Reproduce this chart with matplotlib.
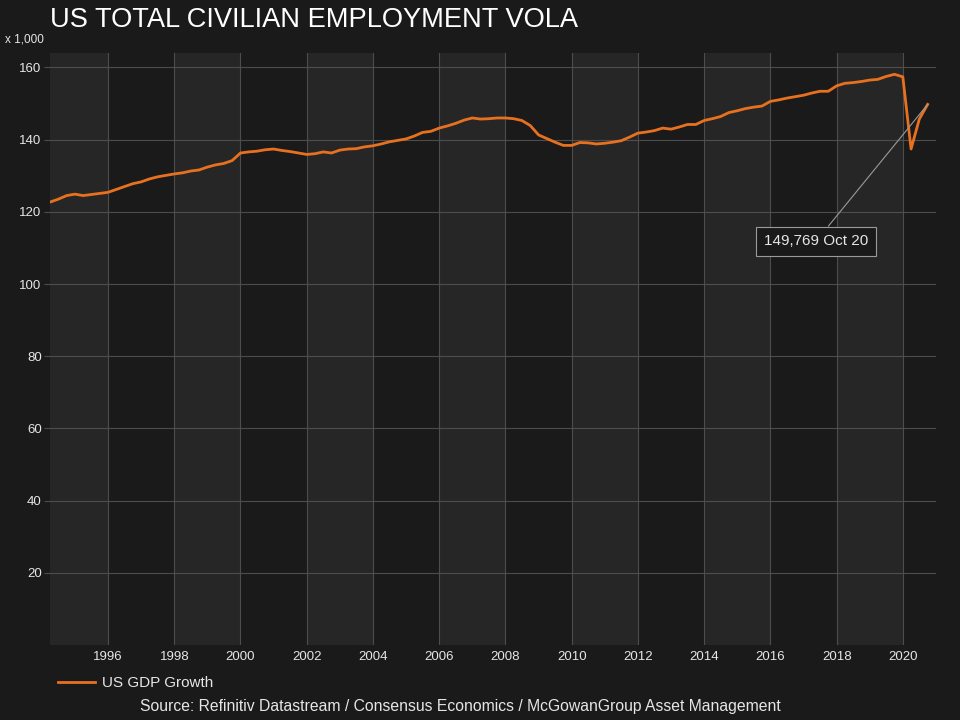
import matplotlib
matplotlib.use("Agg")
import matplotlib.pyplot as plt
import matplotlib.dates as mdates
import numpy as np
import pandas as pd

plt.rcParams['font.family'] = ['Liberation Sans', 'DejaVu Sans']

# quarterly values, x 1,000, Apr 1994 .. Oct 2020
emp = [
    122.7, 123.5, 124.5,                 # 1994 (Apr..Oct)
    124.9, 124.5, 124.8, 125.1,          # 1995
    125.4, 126.2, 127.0, 127.8,          # 1996
    128.3, 129.1, 129.7, 130.1,          # 1997
    130.5, 130.8, 131.3, 131.6,          # 1998
    132.4, 133.0, 133.4, 134.2,          # 1999
    136.3, 136.6, 136.8, 137.2,          # 2000
    137.4, 137.0, 136.7, 136.3,          # 2001
    135.9, 136.1, 136.6, 136.3,          # 2002
    137.1, 137.4, 137.5, 138.0,          # 2003
    138.3, 138.8, 139.4, 139.8,          # 2004
    140.2, 141.0, 142.0, 142.3,          # 2005
    143.2, 143.8, 144.5, 145.4,          # 2006
    146.0, 145.7, 145.8, 146.0,          # 2007
    146.0, 145.8, 145.3, 143.9,          # 2008
    141.3, 140.3, 139.3, 138.4,          # 2009
    138.4, 139.2, 139.1, 138.8,          # 2010
    139.0, 139.3, 139.7, 140.7,          # 2011
    141.8, 142.1, 142.5, 143.2,          # 2012
    142.9, 143.5, 144.2, 144.2,          # 2013
    145.3, 145.8, 146.4, 147.5,          # 2014
    148.0, 148.6, 149.0, 149.3,          # 2015
    150.6, 151.0, 151.5, 151.9,          # 2016
    152.3, 152.9, 153.4, 153.4,          # 2017
    154.9, 155.6, 155.8, 156.1,          # 2018
    156.5, 156.7, 157.5, 158.1,          # 2019
    157.4, 137.4, 145.7, 149.769,        # 2020
]
dates = pd.date_range('1994-04-01', periods=len(emp), freq='QS')

yticks = [20, 40, 60, 80, 100, 120, 140, 160]
band_years = list(range(1998, 2020, 4))   # light bands 1998-2000, 2002-2004, ...

bg = '#1a1a1a'
band = '#262626'
grid_c = '#4d4d4d'
orange = '#e8711f'
txt = '#e6e6e6'

fig = plt.figure(figsize=(9.6, 7.2), dpi=100, facecolor=bg)
ax = fig.add_axes([50/960, 1-645/720, 886/960, 592/720])
ax.set_facecolor(bg)

x0 = pd.Timestamp('1994-04-01')
x1 = pd.Timestamp('2021-01-01')
ax.axvspan(x0, pd.Timestamp('1996-01-01'), color=band, lw=0, zorder=0)
for y in band_years:
    ax.axvspan(pd.Timestamp(f'{y}-01-01'), pd.Timestamp(f'{y+2}-01-01'), color=band, lw=0, zorder=0)
ax.axvspan(pd.Timestamp('2018-01-01'), pd.Timestamp('2020-01-01'), color=band, lw=0, zorder=0)

ax.plot(dates, emp, color=orange, lw=2, zorder=3, label='US GDP Growth')

ax.set_xlim(x0, x1)
ax.set_ylim(0, 164)
ax.set_yticks(yticks)
ax.xaxis.set_major_locator(mdates.YearLocator(2))
ax.xaxis.set_major_formatter(mdates.DateFormatter('%Y'))
ax.grid(True, color=grid_c, lw=0.8, zorder=1)
for s in ax.spines.values():
    s.set_visible(False)
ax.tick_params(axis='y', colors=txt, labelsize=9.5, length=4, color=grid_c, pad=2)
ax.tick_params(axis='x', colors=txt, labelsize=9.5, length=0, pad=4)

# last value label
ax.annotate('149,769 Oct 20', xy=(dates[-1], emp[-1]), xytext=(0.8646, 0.682),
            textcoords='axes fraction', ha='center', va='center', color=txt, fontsize=11,
            bbox=dict(boxstyle='square,pad=0.5', fc=bg, ec='#9a9a9a', lw=0.8),
            arrowprops=dict(arrowstyle='-', color='#9a9a9a', lw=0.8, shrinkA=0, shrinkB=0),
            zorder=4)

fig.text(50/960, 1-20/720, 'US TOTAL CIVILIAN EMPLOYMENT VOLA', color='white',
         fontsize=19.6, ha='left', va='center')
fig.text(5/960, 1-40/720, 'x 1,000', color=txt, fontsize=8.5, ha='left', va='center')

leg = fig.legend(loc='center left', bbox_to_anchor=(52/960, 1-683/720), frameon=False,
                 fontsize=11, handlelength=2.4, handletextpad=0.5, labelcolor=txt, borderaxespad=0)
fig.text(460/960, 1-706/720, 'Source: Refinitiv Datastream / Consensus Economics / McGowanGroup Asset Management',
         color=txt, fontsize=11.3, ha='center', va='center')

fig.savefig('out.png', dpi=100, facecolor=bg)
